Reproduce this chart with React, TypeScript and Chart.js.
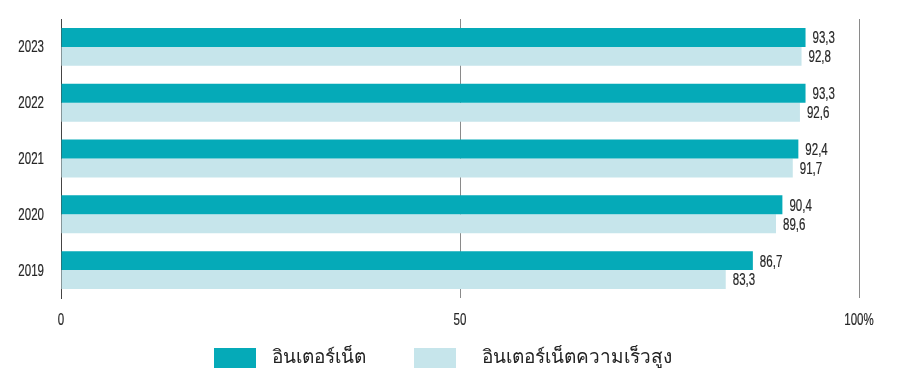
import React, { useEffect, useRef } from "react";
import { Chart, registerables } from "chart.js";

Chart.register(...registerables);

const years = ["2023", "2022", "2021", "2020", "2019"];
const internet = [93.3, 93.3, 92.4, 90.4, 86.7];
const highSpeed = [92.8, 92.6, 91.7, 89.6, 83.3];
const seriesLabels = ["อินเตอร์เน็ต", "อินเตอร์เน็ตความเร็วสูง"];
const xTicks = [0, 50, 100];

const DARK = "#05aab8";
const LIGHT = "#c6e5eb";
const FONT = "'Liberation Sans', Arial, sans-serif";
const THAI_FONT = "'Liberation Sans', 'DejaVu Sans', sans-serif";
const SQUEEZE = 0.72;

function condensedText(ctx: any, text: string, x: number, y: number, align: string) {
  ctx.save();
  ctx.translate(x, y);
  ctx.scale(SQUEEZE, 1);
  ctx.textAlign = align;
  ctx.textBaseline = "middle";
  ctx.fillText(text, 0, 0);
  ctx.strokeText(text, 0, 0);
  ctx.restore();
}

const textPlugin = {
  id: "condensedTexts",
  afterDatasetsDraw(chart: any) {
    const ctx = chart.ctx;
    ctx.save();
    ctx.font = `16px ${FONT}`;
    ctx.fillStyle = "#262626";
    ctx.strokeStyle = "#262626";
    ctx.lineWidth = 0.2;
    // value labels
    chart.data.datasets.forEach((ds: any, di: number) => {
      const meta = chart.getDatasetMeta(di);
      meta.data.forEach((bar: any, i: number) => {
        const v = ds.data[i] as number;
        condensedText(ctx, v.toFixed(1).replace(".", ","), bar.x + 7, bar.y + 1.5, "left");
      });
    });
    // y tick labels
    const ys = chart.scales.y;
    chart.data.labels.forEach((lab: string, i: number) => {
      condensedText(ctx, lab, ys.right - 17, ys.getPixelForTick(i) + 1, "right");
    });
    // x tick labels
    const xs = chart.scales.x;
    xTicks.forEach((v) => {
      condensedText(ctx, v === 100 ? "100%" : String(v), xs.getPixelForValue(v), chart.chartArea.bottom + 23, "center");
    });
    ctx.restore();
  },
};

const legendPlugin = {
  id: "customLegend",
  afterDraw(chart: any) {
    const ctx = chart.ctx;
    const boxX = [214, 414];
    const textX = [272, 482];
    const y = 358;
    ctx.save();
    ctx.font = `19px ${THAI_FONT}`;
    ctx.textBaseline = "middle";
    ctx.textAlign = "left";
    chart.data.datasets.forEach((ds: any, i: number) => {
      ctx.fillStyle = ds.backgroundColor;
      ctx.fillRect(boxX[i], y - 10, 42, 20);
      ctx.fillStyle = "#222222";
      ctx.fillText(ds.label, textX[i], y);
    });
    ctx.restore();
  },
};

export default function App() {
  const ref = useRef<HTMLCanvasElement>(null);

  useEffect(() => {
    document.body.style.margin = "0";
    const chart = new Chart(ref.current!, {
      type: "bar",
      data: {
        labels: years,
        datasets: [
          {
            label: seriesLabels[0],
            data: internet,
            backgroundColor: DARK,
            categoryPercentage: 0.68,
            barPercentage: 1.0,
          },
          {
            label: seriesLabels[1],
            data: highSpeed,
            backgroundColor: LIGHT,
            categoryPercentage: 0.68,
            barPercentage: 1.0,
          },
        ],
      },
      options: {
        indexAxis: "y",
        animation: false,
        responsive: false,
        maintainAspectRatio: false,
        layout: { padding: { top: 19, right: 42, left: 0, bottom: 52 } },
        plugins: {
          legend: { display: false },
          tooltip: { enabled: false },
        },
        scales: {
          x: {
            min: 0,
            max: 100,
            afterBuildTicks(axis: any) {
              axis.ticks = xTicks.map((v) => ({ value: v }));
            },
            afterFit(axis: any) {
              axis.height = 40;
              axis.paddingLeft = 0;
              axis.paddingRight = 0;
            },
            ticks: { display: false },
            grid: {
              drawTicks: false,
              color: (c: any) => (c.tick && c.tick.value === 0 ? "rgba(0,0,0,0)" : "#8a8a8a"),
              lineWidth: 1,
            },
            border: { display: false },
          },
          y: {
            afterFit(axis: any) {
              axis.width = 61;
              axis.paddingTop = 0;
              axis.paddingBottom = 0;
            },
            ticks: { display: false },
            grid: { display: false, drawTicks: false },
            border: { display: true, color: "#444444", width: 1 },
          },
        },
      },
      plugins: [textPlugin, legendPlugin],
    });
    return () => chart.destroy();
  }, []);

  return <canvas ref={ref} width={901} height={390} style={{ display: "block" }} />;
}
